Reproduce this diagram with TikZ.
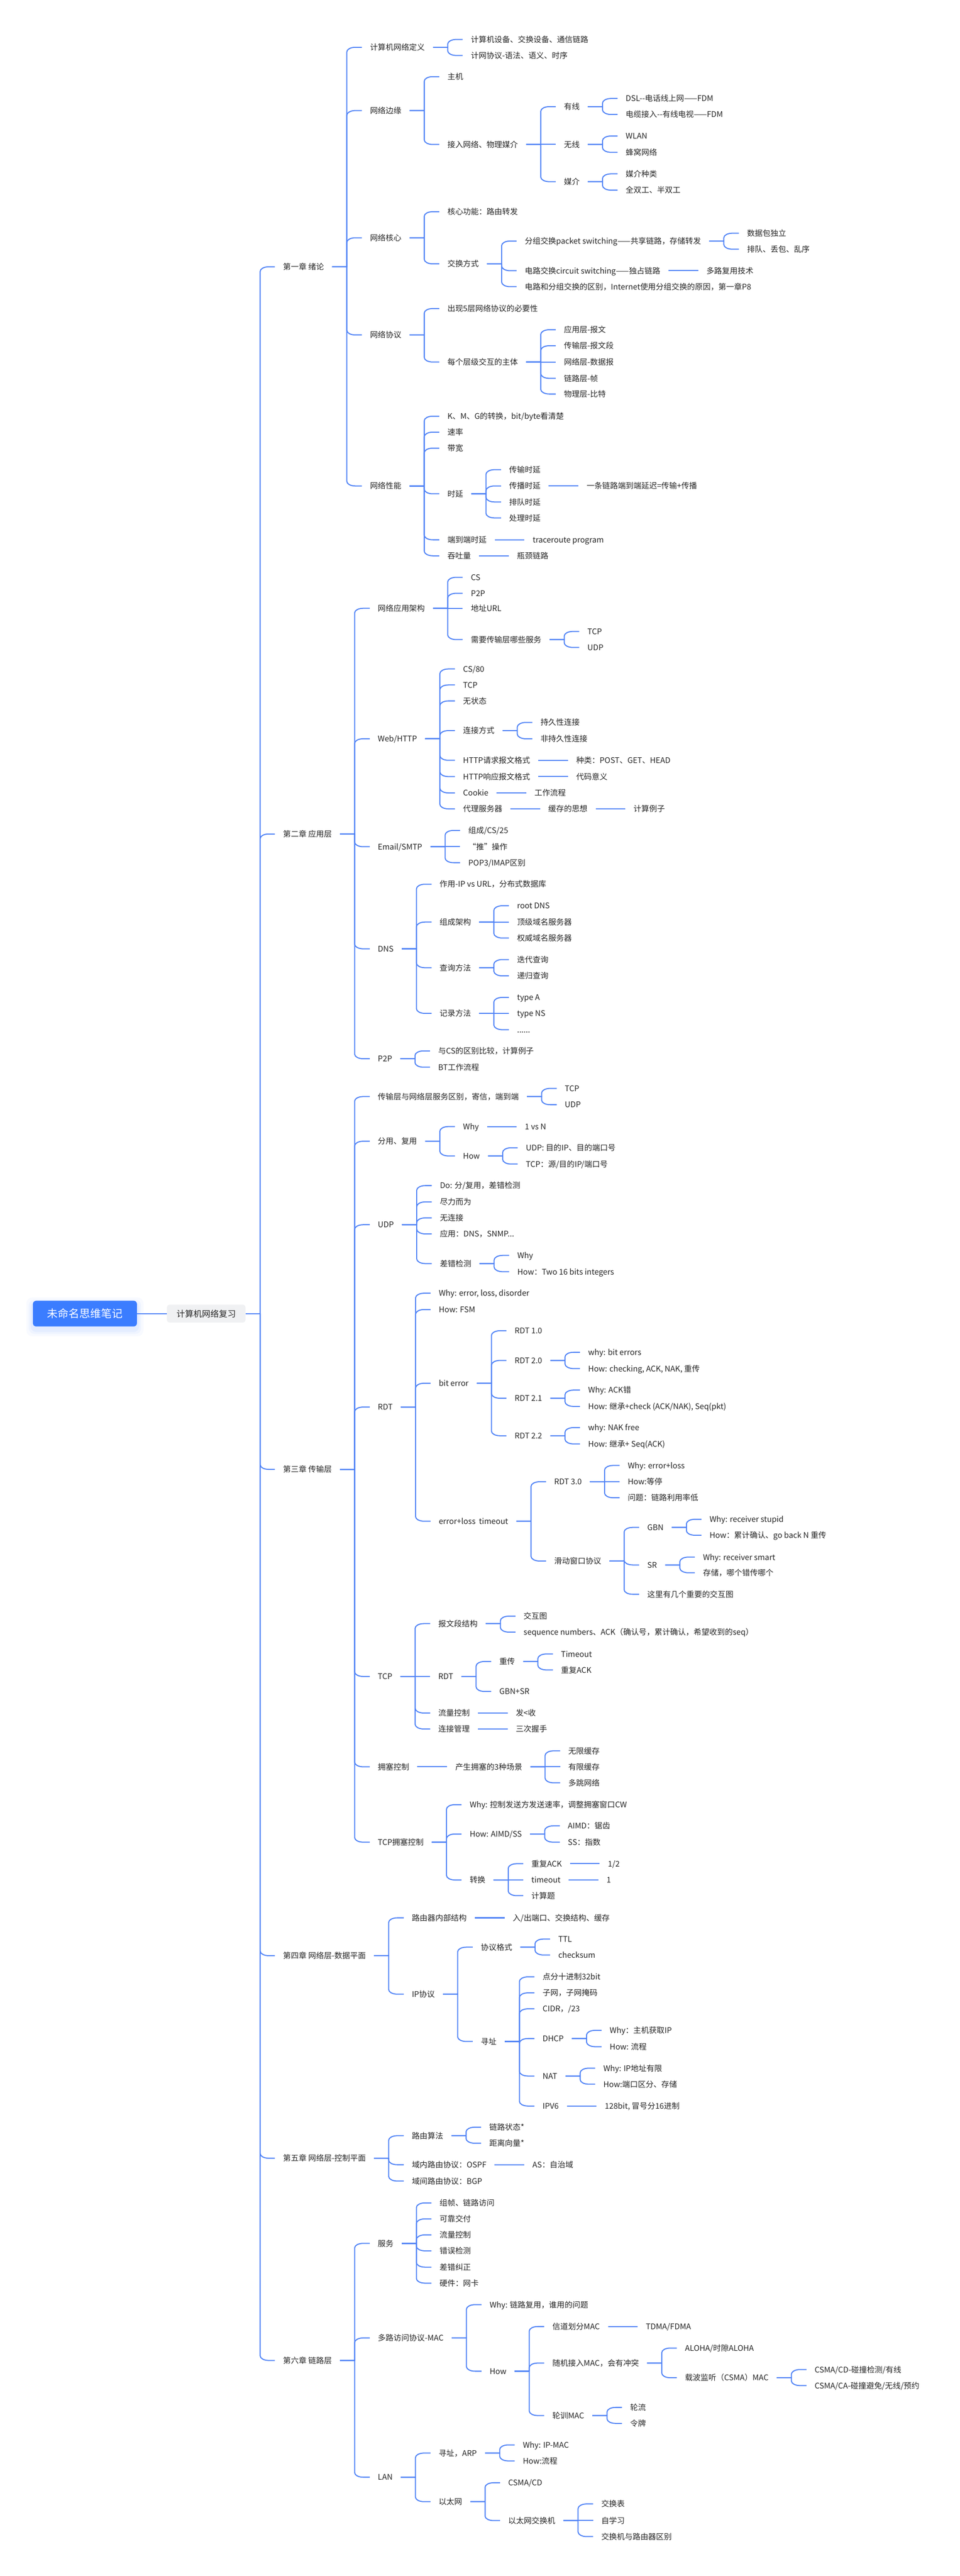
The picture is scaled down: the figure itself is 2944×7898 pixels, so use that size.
\documentclass[tikz,border=0pt]{standalone}
\usepackage{fontspec}
\setmainfont{Noto Sans CJK SC}
\usetikzlibrary{calc}
\definecolor{linec}{RGB}{80,131,246}
\definecolor{rootc}{RGB}{59,125,255}
\definecolor{subc}{RGB}{240,241,243}
\definecolor{txtc}{RGB}{38,38,38}
\tikzset{
  tn/.style={inner sep=0pt, text=txtc, font=\fontsize{24}{28}\selectfont, text height=21pt, text depth=3pt},
  conn/.style={draw=linec, line width=3.2pt, line join=round},
  rootbox/.style={fill=rootc, text=white, rounded corners=10pt, minimum width=319pt, minimum height=79pt, inner sep=0pt, font=\fontsize{33}{36}\selectfont, text height=29pt, text depth=4pt},
  subbox/.style={fill=subc, text=txtc, rounded corners=8pt, minimum width=241pt, minimum height=55pt, inner sep=0pt, font=\fontsize{26}{30}\selectfont, text height=23pt, text depth=3pt}
}
% child with bend: parent, name, y, text
\newcommand\mmch[4]{%
  \node[tn,anchor=west] (#2) at ($(#1.east |- 0,#3)+(141,0)$) {#4};
  \coordinate (#2-t) at ($(#1.east)+(70,0)$);
  \coordinate (#2-c) at (#2-t |- #2.west);
  \draw[conn] ($(#1.east)+(25,0)$) -- (#2-t) -- ($(#2-c)!14pt!(#2-t)$) .. controls ($(#2-c)!6.3pt!(#2-t)$) and ($(#2-c)+(11.6,0)$) .. ($(#2-c)+(26,0)$) -- ($(#2.west)+(-25,0)$);
}
% child in line with parent
\newcommand\mmchs[3]{%
  \node[tn,anchor=west] (#2) at ($(#1.east)+(141,0)$) {#3};
  \draw[conn] ($(#1.east)+(25,0)$) -- ($(#2.west)+(-25,0)$);
}
% chapter
\newcommand\mmchap[3]{%
  \node[tn,anchor=west] (#1) at (868,#2) {#3};
  \coordinate (#1-c) at (798,#2);
  \draw[conn] (T1) -- ($(#1-c)!14pt!(T1)$) .. controls ($(#1-c)!6.3pt!(T1)$) and ($(#1-c)+(11.6,0)$) .. ($(#1-c)+(26,0)$) -- ($(#1.west)+(-25,0)$);
}
\begin{document}
\begin{tikzpicture}[x=1pt,y=-1pt]
\useasboundingbox (0,0) rectangle (2944,7898);
\fill[white] (0,0) rectangle (2944,7898);
% root glow
\foreach \k/\o in {20/0.035,13/0.045,7/0.06}{
  \fill[rootc,opacity=\o,rounded corners=18pt] (101-\k,3998-\k) rectangle (420+\k,4077+\k);
}
\node[rootbox] (root) at (260.5,4027.5) {未命名思维笔记};
\node[subbox] (sub) at (632.5,4027.5) {计算机网络复习};
\coordinate (T1) at (798,4027.5);
\draw[conn] (root.east) -- (sub.west);
\draw[conn] (sub.east) -- (T1);
\mmchap{c1}{818}{第一章 绪论}
\mmchap{c2}{2557}{第二章 应用层}
\mmchap{c3}{4505}{第三章 传输层}
\mmchap{c4}{5996}{第四章 网络层-数据平面}
\mmchap{c5}{6617}{第五章 网络层-控制平面}
\mmchap{c6}{7237}{第六章 链路层}
% ---------- chapter 1
\mmch{c1}{a1}{145}{计算机网络定义}
\mmch{a1}{a11}{121}{计算机设备、交换设备、通信链路}
\mmch{a1}{a12}{170}{计网协议-语法、语义、时序}
\mmch{c1}{a2}{339}{网络边缘}
\mmch{a2}{a21}{235}{主机}
\mmch{a2}{a22}{443}{接入网络、物理媒介}
\mmch{a22}{a221}{327}{有线}
\mmch{a221}{a2211}{302}{DSL-{}-电话线上网——FDM}
\mmch{a221}{a2212}{351}{电缆接入-{}-有线电视——FDM}
\mmchs{a22}{a222}{无线}
\mmch{a222}{a2221}{417}{WLAN}
\mmch{a222}{a2222}{467}{蜂窝网络}
\mmch{a22}{a223}{557}{媒介}
\mmch{a223}{a2231}{533}{媒介种类}
\mmch{a223}{a2232}{583}{全双工、半双工}
\mmch{c1}{a3}{729}{网络核心}
\mmch{a3}{a31}{649}{核心功能：路由转发}
\mmch{a3}{a32}{809}{交换方式}
\mmch{a32}{a321}{739}{分组交换packet switching——共享链路，存储转发}
\mmch{a321}{a3211}{715}{数据包独立}
\mmch{a321}{a3212}{764}{排队、丢包、乱序}
\mmch{a32}{a322}{830}{电路交换circuit switching——独占链路}
\mmchs{a322}{a3221}{多路复用技术}
\mmch{a32}{a323}{879}{电路和分组交换的区别，Internet使用分组交换的原因，第一章P8}
\mmch{c1}{a4}{1027}{网络协议}
\mmch{a4}{a41}{946}{出现5层网络协议的必要性}
\mmch{a4}{a42}{1110}{每个层级交互的主体}
\mmch{a42}{a421}{1011}{应用层-报文}
\mmch{a42}{a422}{1060}{传输层-报文段}
\mmchs{a42}{a423}{网络层-数据报}
\mmch{a42}{a424}{1160}{链路层-帧}
\mmch{a42}{a425}{1208}{物理层-比特}
\mmch{c1}{a5}{1490}{网络性能}
\mmch{a5}{a51}{1276}{K、M、G的转换，bit/byte看清楚}
\mmch{a5}{a52}{1325}{速率}
\mmch{a5}{a53}{1374}{带宽}
\mmch{a5}{a54}{1514}{时延}
\mmch{a54}{a541}{1440}{传输时延}
\mmch{a54}{a542}{1490}{传播时延}
\mmchs{a542}{a5421}{一条链路端到端延迟=传输+传播}
\mmch{a54}{a543}{1539}{排队时延}
\mmch{a54}{a544}{1588}{处理时延}
\mmch{a5}{a55}{1655}{端到端时延}
\mmchs{a55}{a551}{traceroute program}
\mmch{a5}{a56}{1704}{吞吐量}
\mmchs{a56}{a561}{瓶颈链路}
% ---------- chapter 2
\mmch{c2}{b1}{1865}{网络应用架构}
\mmch{b1}{b11}{1770}{CS}
\mmch{b1}{b12}{1819}{P2P}
\mmchs{b1}{b13}{地址URL}
\mmch{b1}{b14}{1961}{需要传输层哪些服务}
\mmch{b14}{b141}{1936}{TCP}
\mmch{b14}{b142}{1985}{UDP}
\mmch{c2}{b2}{2265}{Web/HTTP}
\mmch{b2}{b21}{2051}{CS/80}
\mmch{b2}{b22}{2100}{TCP}
\mmch{b2}{b23}{2149}{无状态}
\mmch{b2}{b24}{2240}{连接方式}
\mmch{b24}{b241}{2215}{持久性连接}
\mmch{b24}{b242}{2265}{非持久性连接}
\mmch{b2}{b25}{2331}{HTTP请求报文格式}
\mmchs{b25}{b251}{种类：POST、GET、HEAD}
\mmch{b2}{b26}{2381}{HTTP响应报文格式}
\mmchs{b26}{b261}{代码意义}
\mmch{b2}{b27}{2431}{Cookie}
\mmchs{b27}{b271}{工作流程}
\mmch{b2}{b28}{2480}{代理服务器}
\mmchs{b28}{b281}{缓存的思想}
\mmchs{b281}{b2811}{计算例子}
\mmch{c2}{b3}{2596}{Email/SMTP}
\mmch{b3}{b31}{2546}{组成/CS/25}
\mmchs{b3}{b32}{“推”操作}
\mmch{b3}{b33}{2645}{POP3/IMAP区别}
\mmch{c2}{b4}{2909}{DNS}
\mmch{b4}{b41}{2711}{作用-IP vs URL，分布式数据库}
\mmch{b4}{b42}{2827}{组成架构}
\mmch{b42}{b421}{2777}{root DNS}
\mmchs{b42}{b422}{顶级域名服务器}
\mmch{b42}{b423}{2876}{权威域名服务器}
\mmch{b4}{b43}{2967}{查询方法}
\mmch{b43}{b431}{2942}{迭代查询}
\mmch{b43}{b432}{2992}{递归查询}
\mmch{b4}{b44}{3107}{记录方法}
\mmch{b44}{b441}{3058}{type A}
\mmchs{b44}{b442}{type NS}
\mmch{b44}{b443}{3157}{......}
\mmch{c2}{b5}{3246}{P2P}
\mmch{b5}{b51}{3222}{与CS的区别比较，计算例子}
\mmch{b5}{b52}{3272}{BT工作流程}
% ---------- chapter 3
\mmch{c3}{d1}{3362}{传输层与网络层服务区别，寄信，端到端}
\mmch{d1}{d11}{3337}{TCP}
\mmch{d1}{d12}{3387}{UDP}
\mmch{c3}{d2}{3499}{分用、复用}
\mmch{d2}{d21}{3454}{Why}
\mmchs{d21}{d211}{1 vs N}
\mmch{d2}{d22}{3544}{How}
\mmch{d22}{d221}{3519}{UDP: 目的IP、目的端口号}
\mmch{d22}{d222}{3569}{TCP：源/目的IP/端口号}
\mmch{c3}{d3}{3755}{UDP}
\mmch{d3}{d31}{3635}{Do: 分/复用，差错检测}
\mmch{d3}{d32}{3685}{尽力而为}
\mmch{d3}{d33}{3734}{无连接}
\mmch{d3}{d34}{3783}{应用：DNS，SNMP...}
\mmch{d3}{d35}{3874}{差错检测}
\mmch{d35}{d351}{3849}{Why}
\mmch{d35}{d352}{3899}{How：Two 16 bits integers}
\mmch{c3}{d4}{4314}{RDT}
\mmch{d4}{d41}{3965}{Why: error, loss, disorder}
\mmch{d4}{d42}{4015}{How: FSM}
\mmch{d4}{d43}{4241}{bit error}
\mmch{d43}{d431}{4080}{RDT 1.0}
\mmch{d43}{d432}{4171}{RDT 2.0}
\mmch{d432}{d4321}{4146}{why: bit errors}
\mmch{d432}{d4322}{4196}{How: checking, ACK, NAK, 重传}
\mmch{d43}{d433}{4287}{RDT 2.1}
\mmch{d433}{d4331}{4262}{Why: ACK错}
\mmch{d433}{d4332}{4312}{How: 继承+check (ACK/NAK), Seq(pkt)}
\mmch{d43}{d434}{4402}{RDT 2.2}
\mmch{d434}{d4341}{4377}{why: NAK free}
\mmch{d434}{d4342}{4427}{How: 继承+ Seq(ACK)}
\mmch{d4}{d44}{4664}{error+loss~~timeout}
\mmch{d44}{d441}{4543}{RDT 3.0}
\mmch{d441}{d4411}{4493}{Why: error+loss}
\mmchs{d441}{d4412}{How:等停}
\mmch{d441}{d4413}{4592}{问题：链路利用率低}
\mmch{d44}{d442}{4786}{滑动窗口协议}
\mmch{d442}{d4421}{4683}{GBN}
\mmch{d4421}{d44211}{4658}{Why: receiver stupid}
\mmch{d4421}{d44212}{4707}{How：累计确认、go back N 重传}
\mmch{d442}{d4422}{4798}{SR}
\mmch{d4422}{d44221}{4774}{Why: receiver smart}
\mmch{d4422}{d44222}{4822}{存储，哪个错传哪个}
\mmch{d442}{d4423}{4888}{这里有几个重要的交互图}
\mmch{c3}{d5}{5140}{TCP}
\mmch{d5}{d51}{4978}{报文段结构}
\mmch{d51}{d511}{4955}{交互图}
\mmch{d51}{d512}{5004}{sequence numbers、ACK（确认号，累计确认，希望收到的seq）}
\mmchs{d5}{d52}{RDT}
\mmch{d52}{d521}{5094}{重传}
\mmch{d521}{d5211}{5071}{Timeout}
\mmch{d521}{d5212}{5120}{重复ACK}
\mmch{d52}{d522}{5186}{GBN+SR}
\mmch{d5}{d53}{5252}{流量控制}
\mmchs{d53}{d531}{发<收}
\mmch{d5}{d54}{5301}{连接管理}
\mmchs{d54}{d541}{三次握手}
\mmch{c3}{d6}{5417}{拥塞控制}
\mmchs{d6}{d61}{产生拥塞的3种场景}
\mmch{d61}{d611}{5368}{无限缓存}
\mmchs{d61}{d612}{有限缓存}
\mmch{d61}{d613}{5466}{多跳网络}
\mmch{c3}{d7}{5648}{TCP拥塞控制}
\mmch{d7}{d71}{5533}{Why: 控制发送方发送速率，调整拥塞窗口CW}
\mmch{d7}{d72}{5623}{How: AIMD/SS}
\mmch{d72}{d721}{5598}{AIMD：锯齿}
\mmch{d72}{d722}{5648}{SS：指数}
\mmch{d7}{d73}{5764}{转换}
\mmch{d73}{d731}{5714}{重复ACK}
\mmchs{d731}{d7311}{1/2}
\mmchs{d73}{d732}{timeout}
\mmchs{d732}{d7321}{1}
\mmch{d73}{d733}{5812}{计算题}
% ---------- chapter 4
\mmch{c4}{e1}{5880}{路由器内部结构}
\mmchs{e1}{e11}{入/出端口、交换结构、缓存}
\mmch{c4}{e2}{6114}{IP协议}
\mmch{e2}{e21}{5970}{协议格式}
\mmch{e21}{e211}{5945}{TTL}
\mmch{e21}{e212}{5994}{checksum}
\mmch{e2}{e22}{6259}{寻址}
\mmch{e22}{e221}{6061}{点分十进制32bit}
\mmch{e22}{e222}{6110}{子网，子网掩码}
\mmch{e22}{e223}{6159}{CIDR，/23}
\mmch{e22}{e224}{6250}{DHCP}
\mmch{e224}{e2241}{6225}{Why：主机获取IP}
\mmch{e224}{e2242}{6275}{How: 流程}
\mmch{e22}{e225}{6365}{NAT}
\mmch{e225}{e2251}{6341}{Why: IP地址有限}
\mmch{e225}{e2252}{6390}{How:端口区分、存储}
\mmch{e22}{e226}{6457}{IPV6}
\mmchs{e226}{e2261}{128bit, 冒号分16进制}
% ---------- chapter 5
\mmch{c5}{f1}{6548}{路由算法}
\mmch{f1}{f11}{6522}{链路状态*}
\mmch{f1}{f12}{6571}{距离向量*}
\mmch{c5}{f2}{6637}{域内路由协议：OSPF}
\mmchs{f2}{f21}{AS：自治域}
\mmch{c5}{f3}{6687}{域间路由协议：BGP}
% ---------- chapter 6
\mmch{c6}{g1}{6878}{服务}
\mmch{g1}{g11}{6754}{组帧、链路访问}
\mmch{g1}{g12}{6803}{可靠交付}
\mmch{g1}{g13}{6852}{流量控制}
\mmch{g1}{g14}{6901}{错误检测}
\mmch{g1}{g15}{6951}{差错纠正}
\mmch{g1}{g16}{7000}{硬件：网卡}
\mmch{c6}{g2}{7168}{多路访问协议-MAC}
\mmch{g2}{g21}{7066}{Why: 链路复用，谁用的问题}
\mmch{g2}{g22}{7270}{How}
\mmch{g22}{g221}{7133}{信道划分MAC}
\mmchs{g221}{g2211}{TDMA/FDMA}
\mmch{g22}{g222}{7245}{随机接入MAC，会有冲突}
\mmch{g222}{g2221}{7199}{ALOHA/时隙ALOHA}
\mmch{g222}{g2222}{7290}{载波监听（CSMA）MAC}
\mmch{g2222}{g22221}{7265}{CSMA/CD-碰撞检测/有线}
\mmch{g2222}{g22222}{7314}{CSMA/CA-碰撞避免/无线/预约}
\mmch{g22}{g223}{7406}{轮训MAC}
\mmch{g223}{g2231}{7381}{轮流}
\mmch{g223}{g2232}{7430}{令牌}
\mmch{c6}{g3}{7595}{LAN}
\mmch{g3}{g31}{7521}{寻址，ARP}
\mmch{g31}{g311}{7496}{Why: IP-MAC}
\mmch{g31}{g312}{7545}{How:流程}
\mmch{g3}{g32}{7670}{以太网}
\mmch{g32}{g321}{7612}{CSMA/CD}
\mmch{g32}{g322}{7728}{以太网交换机}
\mmch{g322}{g3221}{7677}{交换表}
\mmchs{g322}{g3222}{自学习}
\mmch{g322}{g3223}{7777}{交换机与路由器区别}
\end{tikzpicture}
\end{document}
